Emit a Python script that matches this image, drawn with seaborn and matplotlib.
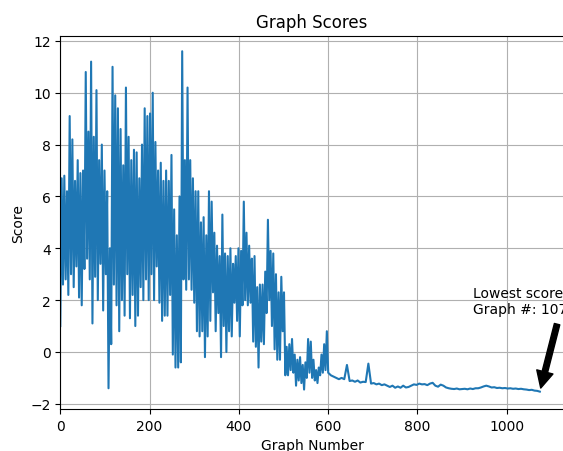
import numpy as np
import pandas as pd
import matplotlib
matplotlib.use("Agg")
import matplotlib.pyplot as plt
import seaborn as sns

# Scores for graphs 0..600 (every 3rd graph)
head_scores = [
    1.0, 6.7, 2.6, 6.8, 2.8, 6.2, 2.2, 9.1, 3.0, 8.2,
    2.5, 6.6, 3.3, 7.4, 2.1, 6.9, 1.8, 7.0, 3.2, 10.8,
    3.6, 8.5, 2.8, 11.2, 1.1, 8.3, 2.9, 10.1, 2.0, 7.4,
    3.4, 8.0, 1.6, 7.0, 3.0, 6.2, -1.4, 4.0, 0.3, 11.0,
    2.6, 9.9, 1.8, 9.4, 0.8, 8.6, 2.0, 7.2, 1.4, 10.2,
    3.0, 8.3, 1.3, 7.4, 2.2, 7.8, 1.0, 7.7, 1.4, 6.7,
    2.5, 8.0, 2.0, 9.4, 2.8, 9.1, 2.0, 9.2, 3.0, 10.0,
    2.0, 8.1, 3.3, 7.0, 1.9, 7.3, 1.2, 6.6, 1.4, 7.0,
    1.4, 6.6, 2.2, 7.6, -0.1, 5.5, -0.6, 4.5, -0.6, 6.0,
    -0.4, 11.6, 2.8, 7.4, 2.4, 10.2, 2.8, 7.4, 2.4, 6.7,
    1.9, 6.2, 0.8, 6.2, 0.6, 5.0, 0.8, 5.2, -0.2, 4.5,
    0.6, 6.2, 1.2, 5.8, 2.3, 4.6, 0.8, 4.1, 1.5, 3.7,
    -0.2, 5.3, 1.0, 3.8, 0.0, 3.7, 0.8, 4.0, 0.6, 3.4,
    1.9, 3.7, 1.2, 4.0, 0.6, 3.9, 1.8, 5.8, 2.0, 4.6,
    1.8, 4.1, 1.9, 3.6, 0.4, 3.7, 0.2, 2.5, -0.6, 2.6,
    0.4, 2.6, 0.3, 3.1, 1.5, 5.1, 2.0, 3.9, 1.0, 3.8,
    0.1, 3.0, -0.3, 2.3, -0.3, 2.9, 0.8, 2.3, -0.9, 0.2,
    -0.9, 0.3, -0.7, 0.5, -0.8, -0.1, -1.3, -0.3, -1.1, -0.2,
    -1.2, -0.5, -1.45, -0.4, -1.0, 0.5, -0.8, 0.4, -1.0, -0.3,
    -1.1, -0.7, -1.2, -0.6, -0.9, -0.1, -0.8, 0.3, -0.7, 0.8,
    -0.8,
]

# Scores for graphs 606..1074 (every 6th graph)
tail_scores = [
    -0.9, -0.95, -1.0, -1.05, -1.0, -1.05, -0.5, -1.12, -1.1, -1.15,
    -1.1, -1.18, -1.15, -1.16, -0.45, -1.22, -1.2, -1.25, -1.22, -1.28,
    -1.25, -1.3, -1.35, -1.3, -1.38, -1.33, -1.38, -1.3, -1.37, -1.35,
    -1.3, -1.25, -1.27, -1.22, -1.25, -1.24, -1.28, -1.22, -1.19, -1.3,
    -1.34, -1.26, -1.3, -1.37, -1.4, -1.42, -1.43, -1.41, -1.44, -1.43,
    -1.42, -1.44, -1.41, -1.43, -1.4, -1.4, -1.37, -1.33, -1.3, -1.33,
    -1.37, -1.36, -1.39, -1.38, -1.4, -1.39, -1.41, -1.4, -1.42, -1.41,
    -1.43, -1.42, -1.44, -1.45, -1.47, -1.46, -1.49, -1.5, -1.53,
]

head_x = np.arange(len(head_scores)) * 3
tail_x = head_x[-1] + 6 + np.arange(len(tail_scores)) * 6
graph_numbers = np.concatenate([head_x, tail_x])
scores = np.array(head_scores + tail_scores)

df = pd.DataFrame({"Graph Number": graph_numbers, "Score": scores})

fig = plt.figure(figsize=(5.63, 4.52), dpi=100)
W, H = 563, 452
ax = fig.add_axes([60.3 / W, 1 - 410 / H, (563.8 - 60.3) / W, (410 - 36.7) / H])

sns.lineplot(data=df, x="Graph Number", y="Score", ax=ax, color="#1f77b4",
             linewidth=1.5, estimator=None, sort=False)

ax.set_xlim(0, graph_numbers.max() * 1.05)
ax.set_ylim(-2.2, 12.2)
ax.grid(True)
ax.set_title("Graph Scores", fontsize=12)
ax.set_xlabel("Graph Number", fontsize=10)
ax.set_ylabel("Score", fontsize=10)

i_min = int(np.argmin(scores))
best_x, best_y = graph_numbers[i_min], scores[i_min]
ax.text(best_x - 150, best_y + 3.03, f"Lowest score\nGraph #: {best_x}",
        fontsize=10, clip_on=False)
ax.annotate("", xy=(best_x, best_y), xytext=(best_x + 40.7, best_y + 2.74),
            arrowprops=dict(facecolor="black", shrink=0.05),
            annotation_clip=False)

fig.savefig("out.png", dpi=100)
